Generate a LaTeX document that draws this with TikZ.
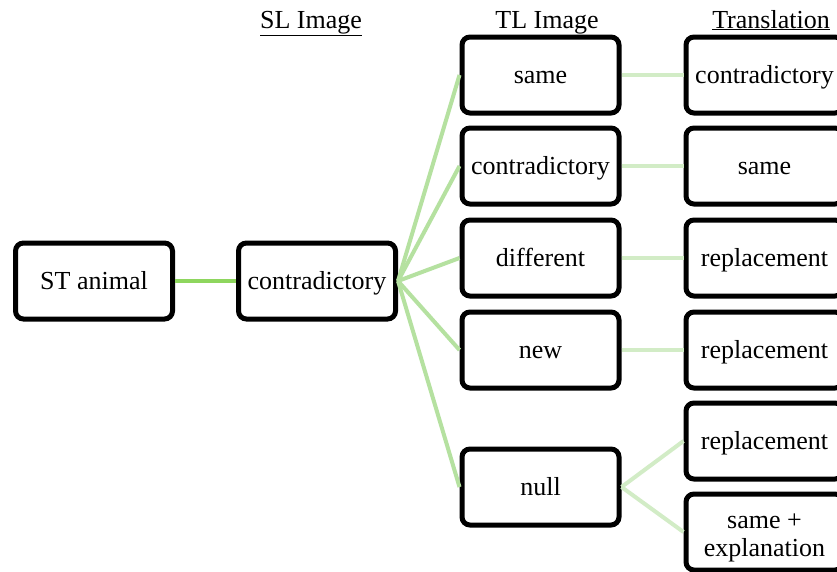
\documentclass[tikz,border=0pt]{standalone}
\usepackage{fontspec}
\setmainfont{Liberation Serif}
\definecolor{linkA}{HTML}{8ED65E}
\definecolor{linkB}{HTML}{B5E1A0}
\definecolor{linkC}{HTML}{D2ECC6}
\begin{document}
\begin{tikzpicture}[x=1pt,y=-1pt,
  box/.style={draw=black, fill=white, rectangle, rounded corners=8pt, line width=5pt,
    minimum width=157pt, minimum height=76pt, inner sep=2pt, align=center,
    font=\fontsize{26}{27}\selectfont},
  one/.style={box, text height=18pt, text depth=2pt},
  head/.style={font=\fontsize{26}{30}\selectfont, inner sep=0pt, anchor=base},
  lA/.style={draw=linkA, line width=4.5pt},
  lB/.style={draw=linkB, line width=4pt},
  lC/.style={draw=linkC, line width=4pt}]
\useasboundingbox (0,0) rectangle (837,571);
\clip (0,0) rectangle (837,571);
\fill[white] (0,0) rectangle (837,571);
% headers
\node[head] (h1) at (311,28) {\underline{SL Image}};
\node[head] (h2) at (547,28) {\underline{TL Image}};
\node[head] (h3) at (771,28) {\underline{Translation}};
% boxes
\node[one] (st) at (94,281) {ST animal};
\node[one] (sl) at (317,281) {contradictory};
\node[one] (t1) at (540.5,75) {same};
\node[one] (t2) at (540.5,166) {contradictory};
\node[one] (t3) at (540.5,258) {different};
\node[one] (t4) at (540.5,350) {new};
\node[one] (t5) at (540.5,487) {null};
\node[one] (r1) at (764.5,75) {contradictory};
\node[one] (r2) at (764.5,166) {same};
\node[one] (r3) at (764.5,258) {replacement};
\node[one] (r4) at (764.5,350) {replacement};
\node[one] (r5) at (764.5,441) {replacement};
\node[box] (r6) at (764.5,532) {\rule{0pt}{26pt}same +\\[1pt]explanation};
% connectors
\draw[lA] (st.east) -- (sl.west);
\foreach \t in {t1,t2,t3,t4,t5} \draw[lB] (sl.east) -- (\t.west);
\draw[lC] (t1.east) -- (r1.west);
\draw[lC] (t2.east) -- (r2.west);
\draw[lC] (t3.east) -- (r3.west);
\draw[lC] (t4.east) -- (r4.west);
\draw[lC] (t5.east) -- (r5.west);
\draw[lC] (t5.east) -- (r6.west);
\end{tikzpicture}
\end{document}
